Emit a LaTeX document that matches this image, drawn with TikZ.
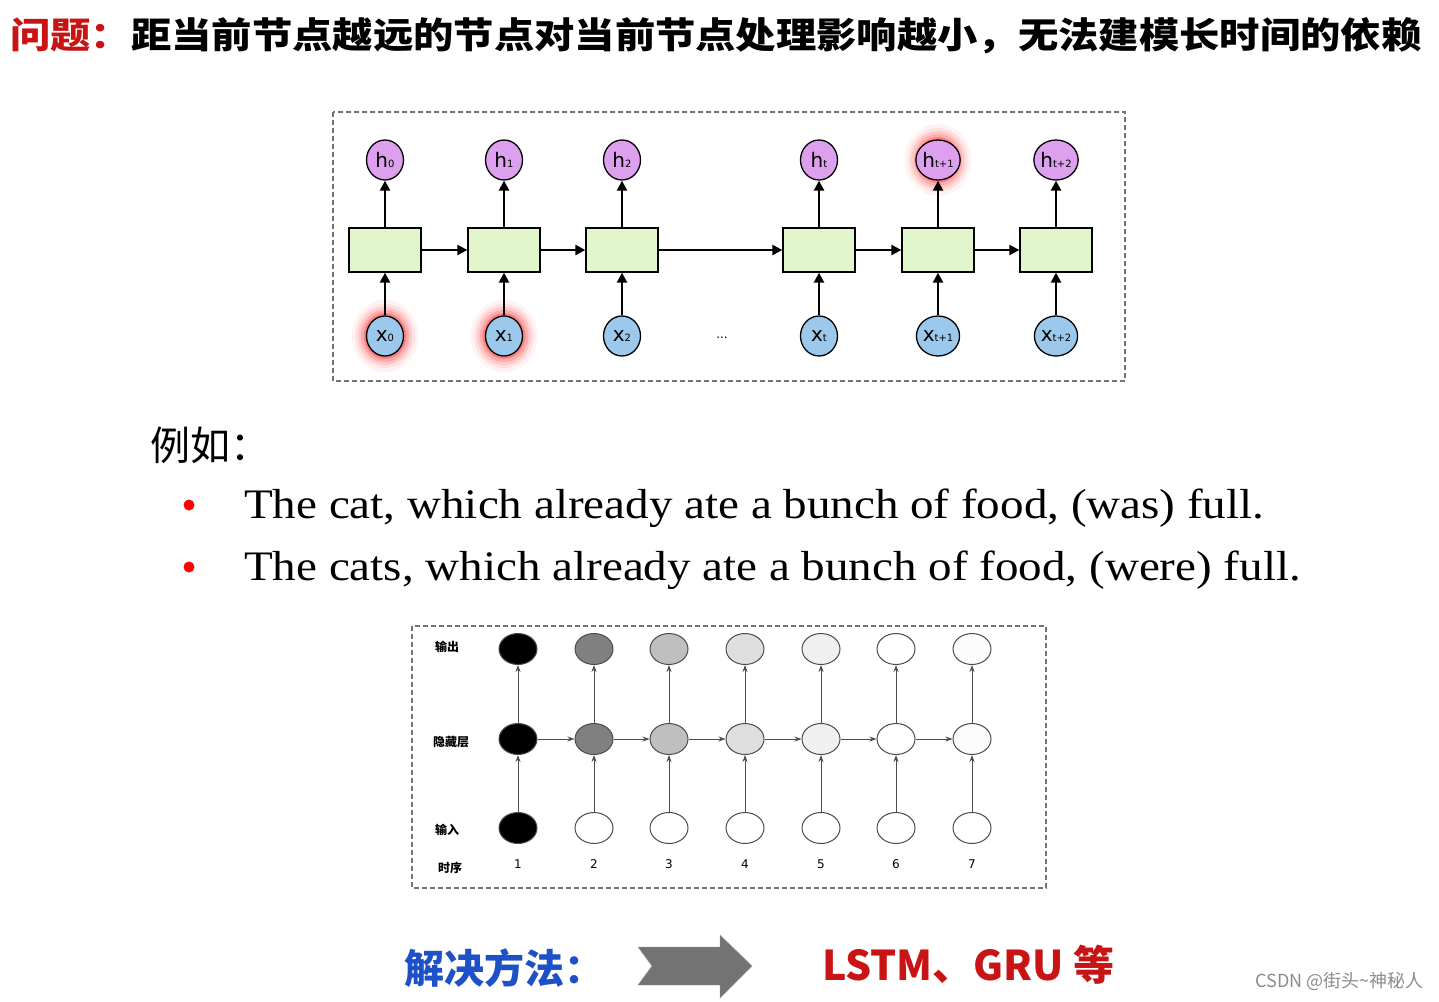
\documentclass[tikz,border=0pt]{standalone}
\usepackage{fontspec}
\setmainfont{Liberation Serif}
\newfontfamily\cjk{Noto Sans CJK SC}
\newfontfamily\sans{DejaVu Sans}
\usetikzlibrary{arrows.meta,shapes.geometric}
\definecolor{hpurple}{RGB}{221,160,238}
\definecolor{xblue}{RGB}{155,200,235}
\definecolor{boxgreen}{RGB}{226,246,206}
\definecolor{titlered}{RGB}{200,20,20}
\definecolor{solblue}{RGB}{30,80,200}
\newcommand{\sbx}[1]{{\fontsize{10}{10}\selectfont #1}}
\begin{document}
\begin{tikzpicture}[x=1pt,y=-1pt,
  frame/.style={draw=gray!90!black,dashed,line width=1.2pt,dash pattern=on 5pt off 3pt},
  hnode/.style={ellipse,draw=black,line width=1.3pt,fill=hpurple,minimum width=37pt,minimum height=40pt,inner sep=0pt,font=\sans\fontsize{20}{20}\selectfont},
  xnode/.style={ellipse,draw=black,line width=1.3pt,fill=xblue,minimum width=37pt,minimum height=40pt,inner sep=0pt,font=\sans\fontsize{20}{20}\selectfont},
  cell/.style={rectangle,draw=black,line width=1.3pt,fill=boxgreen,minimum width=72pt,minimum height=44pt},
  big/.style={-{Triangle[length=10pt,width=10pt]},line width=2.4pt},
  sn/.style={ellipse,draw=black!70,line width=1pt,minimum width=38pt,minimum height=31pt,inner sep=0pt},
  sa/.style={-{Stealth[length=7pt,width=5pt]},line width=1pt,draw=black!70},
  lab/.style={font=\cjk\fontsize{12}{12}\selectfont\bfseries},
  num/.style={font=\sans\fontsize{12}{12}\selectfont}]
\useasboundingbox (0,0) rectangle (1439,1001);
\fill[white] (0,0) rectangle (1439,1001);
% title
\node[anchor=west,inner sep=0pt] (title) at (10,36) {\scalebox{1.12}[1]{\cjk\bfseries\fontsize{36}{36}\selectfont\textcolor{titlered}{问题：}距当前节点越远的节点对当前节点处理影响越小，无法建模长时间的依赖}};
% top diagram
\draw[frame] (333,112) rectangle (1125,381);
\foreach \p in {{385,336},{504,336},{938,160}}{
  \foreach \r/\o in {36/0.05,32/0.07,29/0.1,26/0.14,23/0.25}{
    \fill[red,opacity=\o] (\p) ellipse ({\r*0.93} and \r);
  }
}
\foreach \i/\x/\hl in {0/385/0,1/504/1,2/622/2,3/819/t,4/938/t+1,5/1056/t+2}{
  \node[cell] (c\i) at (\x,250) {};
  \node[hnode] (h\i) at (\x,160) {h\sbx{\hl}};
  \node[xnode] (x\i) at (\x,336) {x\sbx{\hl}};
  \draw[big] (c\i) -- (h\i);
  \draw[big] (x\i) -- (c\i);
}
\foreach \a/\b in {0/1,1/2,2/3,3/4,4/5}{\draw[big] (c\a) -- (c\b);}
\node (dots) at (722,338) {\sans\fontsize{12}{12}\selectfont ...};
% example
\node[anchor=west,inner sep=0pt] (eg) at (150,445) {\cjk\fontsize{40}{40}\selectfont 例如：};
\fill[red] (189,505) circle (5.5pt);
\fill[red] (189,567) circle (5.5pt);
\node[anchor=west,inner sep=0pt] (s1) at (244,508) {\scalebox{1.12}[1]{\fontsize{42}{42}\selectfont The cat, which already ate a bunch of food, (was) full.}};
\node[anchor=west,inner sep=0pt] (s2) at (244,570) {\scalebox{1.12}[1]{\fontsize{42}{42}\selectfont The cats, which already ate a bunch of food, (were) full.}};
% bottom diagram
\draw[frame] (412,626) rectangle (1046,888);
\node[lab] (l1) at (447,647) {输出};
\node[lab] (l2) at (451,742) {隐藏层};
\node[lab] (l3) at (447,830) {输入};
\node[lab] (l4) at (450,868) {时序};
\foreach \i/\x/\s in {1/518/100,2/594/50,3/669/25,4/745/13,5/821/6,6/896/0,7/972/1}{
  \node[sn,fill=black!\s] (o\i) at (\x,649) {};
  \node[sn,fill=black!\s] (m\i) at (\x,739) {};
  \node[num] (t\i) at (\x,864) {\i};
}
\node[sn,fill=black] (n1) at (518,828) {};
\foreach \i/\x in {2/594,3/669,4/745,5/821,6/896,7/972}{\node[sn,fill=white] (n\i) at (\x,828) {};}
\foreach \i in {1,...,7}{
  \draw[sa] (m\i) -- (o\i);
  \draw[sa] (n\i) -- (m\i);
}
\foreach \a/\b in {1/2,2/3,3/4,4/5,5/6,6/7}{\draw[sa] (m\a) -- (m\b);}
% solution
\node[anchor=west,inner sep=0pt,text=solblue] (sol) at (404,968) {\cjk\bfseries\fontsize{40}{40}\selectfont 解决方法：};
\fill[black!55,draw=black!40] (638,947) -- (720,947) -- (720,935) -- (752,966) -- (720,998) -- (720,985) -- (638,985) -- (652,966) -- cycle;
\node[anchor=west,inner sep=0pt,text=titlered] (lstm) at (822,965) {\cjk\bfseries\fontsize{41}{41}\selectfont LSTM、GRU 等};
\node[anchor=east,inner sep=0pt,text=black!45] (wm) at (1424,981) {\cjk\fontsize{18}{18}\selectfont CSDN @街头\textasciitilde 神秘人};
\end{tikzpicture}
\end{document}
